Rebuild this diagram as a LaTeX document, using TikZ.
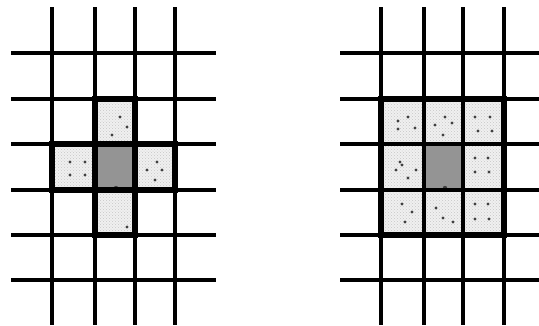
\documentclass[tikz,border=0pt]{standalone}
\usetikzlibrary{patterns}
\begin{document}
\begin{tikzpicture}[x=1pt,y=-1pt,
  gridline/.style={line width=3.2pt, black},
  outline/.style={line width=6pt, black, line join=miter},
  lightcell/.style={fill=gray!12},
  dotcell/.style={pattern=crosshatch dots, pattern color=gray!45},
  centercell/.style={fill=black!42},
  darkdot/.style={fill=black!75}]
\useasboundingbox (0,0) rectangle (539,325);
% ---------- left panel ----------
\foreach \x/\y in {95/99, 135/144, 95/190} {
  \fill[lightcell] (\x,\y) rectangle ++(40,45);
  \fill[dotcell] (\x,\y) rectangle ++(40,45);
}
\fill[lightcell] (52,144) rectangle ++(43,46);
\fill[dotcell] (52,144) rectangle ++(43,46);
\fill[centercell] (97,146) rectangle (133,188);
\fill[darkdot] (116,188) circle (2.2);
\foreach \px/\py in {120/117,127/127,112/135, 70/162,85/162,70/175,85/175, 157/162,162/170,147/170,155/180, 127/227}
  \fill[darkdot] (\px,\py) circle (1.6);
\foreach \x in {52,95,135,175} \draw[gridline] (\x,7) -- (\x,325);
\foreach \y in {53,99,144,190,235,280} \draw[gridline] (11,\y) -- (216,\y);
\draw[outline] (95,99) rectangle (135,144);
\draw[outline] (52,144) rectangle (95,190);
\draw[outline] (95,144) rectangle (135,190);
\draw[outline] (135,144) rectangle (175,190);
\draw[outline] (95,190) rectangle (135,235);
% ---------- right panel ----------
\fill[lightcell] (381,99) rectangle (504,235);
\fill[dotcell] (381,99) rectangle (504,235);
\fill[centercell] (426,146) rectangle (461,188);
\fill[darkdot] (445,188) circle (2.2);
\foreach \px/\py in {398/121,408/117,398/129,415/128, 445/117,452/123,443/135,435/125, 475/117,490/117,478/131,492/131,
  400/162,402/165,396/170,416/170,408/178, 475/158,488/158,475/172,489/172,
  402/204,412/212,405/222, 436/208,443/218,453/222, 475/204,488/204,475/219,489/219}
  \fill[darkdot] (\px,\py) circle (1.6);
\foreach \x in {381,424,463,504} \draw[gridline] (\x,7) -- (\x,325);
\foreach \y in {53,99,144,190,235,280} \draw[gridline] (340,\y) -- (539,\y);
\draw[outline] (381,99) rectangle (504,235);
\end{tikzpicture}
\end{document}
